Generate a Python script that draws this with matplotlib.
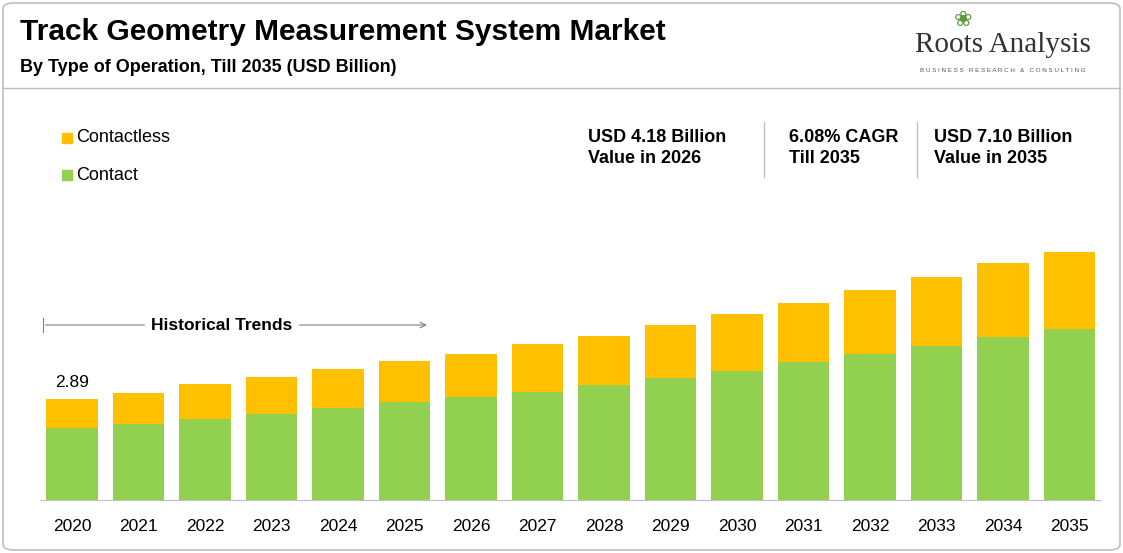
import matplotlib
matplotlib.use('Agg')
import matplotlib.pyplot as plt
from matplotlib.patches import FancyBboxPatch
import numpy as np

plt.rcParams['font.family'] = ['Liberation Sans', 'DejaVu Sans']

years = ['2020', '2021', '2022', '2023', '2024', '2025', '2026', '2027',
         '2028', '2029', '2030', '2031', '2032', '2033', '2034', '2035']
total = [2.89, 3.07, 3.31, 3.52, 3.73, 3.96, 4.18, 4.46,
         4.70, 5.01, 5.32, 5.64, 6.00, 6.37, 6.76, 7.10]
contact = [2.05, 2.16, 2.32, 2.47, 2.63, 2.79, 2.94, 3.10,
           3.28, 3.49, 3.70, 3.94, 4.17, 4.41, 4.67, 4.88]
contactless = [t - c for t, c in zip(total, contact)]

green = '#92d050'
yellow = '#ffc000'
W, H = 1123, 553

fig = plt.figure(figsize=(W / 100, H / 100), dpi=100)
fig.patch.set_facecolor('white')

# outer border and header separator
fig.add_artist(FancyBboxPatch((3 / W, 3 / H), 1 - 6 / W, 1 - 6 / H,
                              boxstyle='round,pad=0,rounding_size=0.01',
                              transform=fig.transFigure, fill=False,
                              edgecolor='#bfbfbf', linewidth=1.2))
fig.add_artist(plt.Line2D([3 / W, 1 - 3 / W], [1 - 88 / H] * 2,
                          transform=fig.transFigure, color='#bfbfbf', lw=1))

fig.text(20 / W, 1 - 32 / H, 'Track Geometry Measurement System Market',
         fontsize=21.5, fontweight='bold', va='center')
fig.text(20 / W, 1 - 68 / H, 'By Type of Operation, Till 2035 (USD Billion)',
         fontsize=13, fontweight='bold', va='center')
fig.text(1003 / W, 1 - 45 / H, 'Roots Analysis', fontsize=21, ha='center',
         va='center', family='Liberation Serif', color='#333333')
fig.text(1003 / W, 1 - 71 / H, 'B U S I N E S S   R E S E A R C H   &   C O N S U L T I N G',
         fontsize=4.5, ha='center', va='center', color='#555555')
fig.text(963 / W, 1 - 20 / H, '\u2740', fontsize=16, ha='center', va='center',
         color='#5a9a3a', family='DejaVu Sans')

ax = fig.add_axes([40 / W, 53 / H, 1060 / W, 400 / H])
x = np.arange(len(years))
ax.bar(x, contact, width=0.77, color=green, label='Contact')
ax.bar(x, contactless, width=0.77, bottom=contact, color=yellow, label='Contactless')
ax.set_xlim(-0.48, 15.46)
ax.set_ylim(0, 400 / 35)
ax.set_xticks(x)
ax.set_xticklabels(years, fontsize=12.5)
ax.tick_params(length=0, pad=14)
ax.set_yticks([])
for s in ['top', 'right', 'left']:
    ax.spines[s].set_visible(False)
ax.spines['bottom'].set_color('#bfbfbf')

ax.text(x[0], total[0] + 0.25, '2.89', ha='center', va='bottom', fontsize=12.5)

# historical trends arrow
ax.annotate('', xy=(5.38, 5.0), xytext=(-0.44, 5.0),
            arrowprops=dict(arrowstyle='->', color='#808080', lw=0.8))
ax.plot([-0.44, -0.44], [4.8, 5.2], color='#808080', lw=0.8)
ax.text(2.25, 5.0, 'Historical Trends', ha='center', va='center', fontsize=12.5,
        fontweight='bold', backgroundcolor='white')

# legend
for yy, col, lab in [(1 - 138 / H, yellow, 'Contactless'), (1 - 175 / H, green, 'Contact')]:
    fig.add_artist(plt.Rectangle((62 / W, yy - 5 / H), 10 / W, 10 / H,
                                 color=col, transform=fig.transFigure))
    fig.text(76 / W, yy, lab, fontsize=13, va='center')

# key figures
for xp, txt in [(588, 'USD 4.18 Billion\nValue in 2026'),
                (789, '6.08% CAGR\nTill 2035'),
                (934, 'USD 7.10 Billion\nValue in 2035')]:
    fig.text(xp / W, 1 - 148 / H, txt, fontsize=13, fontweight='bold',
             va='center', linespacing=1.3)
for xp in [764, 917]:
    fig.add_artist(plt.Line2D([xp / W] * 2, [1 - 122 / H, 1 - 177 / H],
                              transform=fig.transFigure, color='#bfbfbf', lw=1))

plt.savefig('out.png', dpi=100)
